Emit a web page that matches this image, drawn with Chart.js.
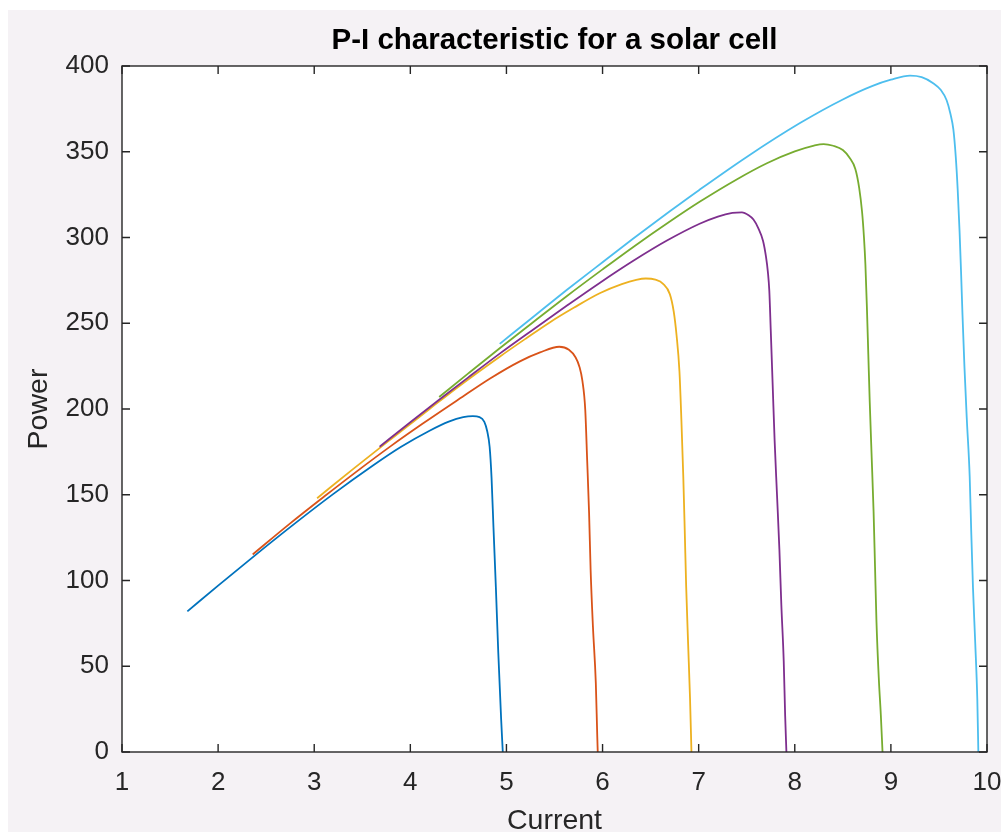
<!DOCTYPE html>
<html>
<head>
<meta charset="utf-8">
<script src="https://cdn.jsdelivr.net/npm/chart.js@4.4.1/dist/chart.umd.min.js"></script>
<style>
html, body { margin: 0; padding: 0; background: #ffffff; }
#bg { position: absolute; left: 8px; top: 10px; width: 993px; height: 822px; background: #f5f2f5; }
#wrap { position: absolute; left: 0; top: 0; width: 1001px; height: 832px; }
</style>
</head>
<body>
<div id="bg"></div>
<div id="wrap"><canvas id="c" width="1001" height="832"></canvas></div>
<script>
// ---- text ----
const chartTitle = 'P-I characteristic for a solar cell';
const xAxisTitle = 'Current';
const yAxisTitle = 'Power';

// ---- ticks ----
const xTicks = [1, 2, 3, 4, 5, 6, 7, 8, 9, 10];
const yTicks = [0, 50, 100, 150, 200, 250, 300, 350, 400];

// ---- series colours (MATLAB default order) ----
const seriesColors = ['#0072BD', '#D95319', '#EDB120', '#7E2F8E', '#77AC30', '#4DBEEE'];

// ---- series 1 (blue) ----
const current1 = [1.68, 2.0, 2.4, 2.8, 3.2, 3.6, 3.9, 4.2, 4.4, 4.55, 4.65, 4.72, 4.77, 4.80, 4.825, 4.845, 4.865, 4.89, 4.915, 4.945, 4.962];
const power1   = [82, 97, 115.4, 133.3, 150.5, 166.6, 177.8, 187.3, 192.6, 195.2, 195.8, 195.3, 192.5, 187, 178, 160, 131, 96, 58, 19, 0];

// ---- series 2 (orange) ----
const current2 = [2.36, 2.75, 3.1, 3.44, 3.8, 4.13, 4.5, 4.83, 5.14, 5.35, 5.55, 5.65, 5.72, 5.76, 5.79, 5.82, 5.84, 5.86, 5.876, 5.90, 5.93, 5.945, 5.95];
const power2   = [115.2, 133.3, 148.8, 163.5, 178.5, 191.5, 205.5, 217.8, 227.8, 233, 236.3, 234.5, 230, 224.5, 216.5, 199.5, 170, 139, 106, 73, 40, 9, 0];

// ---- series 3 (yellow) ----
const current3 = [3.03, 3.4, 3.8, 4.2, 4.5, 4.93, 5.2, 5.45, 5.7, 5.97, 6.2, 6.35, 6.45, 6.55, 6.63, 6.70, 6.74, 6.77, 6.80, 6.82, 6.84, 6.855, 6.87, 6.89, 6.91, 6.925];
const power3   = [148, 164.8, 182.5, 200, 213, 230.5, 241, 250.5, 259, 267.5, 272.8, 275.3, 276.1, 275.4, 273, 267, 257, 243, 222, 194, 160.5, 129.5, 96.5, 63.5, 31.5, 0];

// ---- series 4 (purple) ----
const current4 = [3.68, 4.0, 4.31, 4.6, 4.93, 5.28, 5.63, 5.97, 6.32, 6.67, 7.01, 7.2, 7.35, 7.45, 7.52, 7.57, 7.62, 7.67, 7.70, 7.72, 7.735, 7.75, 7.77, 7.79, 7.815, 7.84, 7.86, 7.885, 7.90, 7.913];
const power4   = [178, 192.3, 205.8, 218.3, 232.3, 246.4, 260.3, 273.5, 286.4, 298.2, 308, 312.2, 314.3, 314.7, 313, 310.5, 305.5, 298, 289, 280, 269, 246, 214, 182, 150, 118, 86, 53, 21, 0];

// ---- series 5 (green) ----
const current5 = [4.30, 4.6, 4.93, 5.3, 5.63, 6.0, 6.32, 6.7, 7.01, 7.4, 7.71, 8.0, 8.2, 8.3, 8.4, 8.5, 8.57, 8.63, 8.67, 8.70, 8.72, 8.735, 8.75, 8.765, 8.78, 8.80, 8.82, 8.835, 8.85, 8.875, 8.895, 8.913];
const power5   = [207, 220.6, 235.4, 251.6, 265.9, 281.4, 294.5, 309.3, 320.8, 334, 343.3, 350.2, 353.6, 354.5, 353.5, 351, 346.5, 340, 329, 315, 300, 284, 260, 232, 204, 172, 140, 108, 76, 42, 22, 0];

// ---- series 6 (cyan) ----
const current6 = [4.93, 5.3, 5.63, 6.0, 6.32, 6.7, 7.01, 7.5, 8.05, 8.5, 8.81, 9.0, 9.2, 9.32, 9.44, 9.52, 9.58, 9.62, 9.65, 9.675, 9.695, 9.715, 9.73, 9.745, 9.765, 9.79, 9.82, 9.836, 9.854, 9.878, 9.899, 9.91];
const power6   = [238, 254.7, 269.5, 285.6, 299.4, 315.3, 327.9, 347, 366.6, 380.5, 388.4, 392, 394.4, 393.5, 390, 386, 380, 372, 363, 347, 328, 303, 280, 255, 225, 194, 160.5, 128.5, 96, 63, 31, 0];

const currents = [current1, current2, current3, current4, current5, current6];
const powers   = [power1, power2, power3, power4, power5, power6];

const FONT = "'Liberation Sans', Arial, Helvetica, sans-serif";
const AXIS_COLOR = '#262626';

const datasets = currents.map((cur, i) => ({
  data: cur.map((v, k) => ({ x: v, y: powers[i][k] })),
  borderColor: seriesColors[i],
  backgroundColor: seriesColors[i],
  borderWidth: 1.8,
  pointRadius: 0,
  fill: false,
  cubicInterpolationMode: 'monotone',
  order: currents.length - 1 - i
}));

const framePlugin = {
  id: 'frame',
  beforeDraw(chart) {
    const { ctx, chartArea: a } = chart;
    ctx.save();
    ctx.fillStyle = '#ffffff';
    ctx.fillRect(a.left, a.top, a.right - a.left, a.bottom - a.top);
    ctx.restore();
  },
  afterDraw(chart) {
    const { ctx, chartArea: a } = chart;
    const xs = chart.scales.x, ys = chart.scales.y;
    const L = 8;
    ctx.save();
    ctx.strokeStyle = AXIS_COLOR;
    ctx.lineWidth = 1.4;
    ctx.beginPath();
    xs.ticks.forEach(t => {
      const px = xs.getPixelForValue(t.value);
      ctx.moveTo(px, a.bottom); ctx.lineTo(px, a.bottom - L);
      ctx.moveTo(px, a.top); ctx.lineTo(px, a.top + L);
    });
    ys.ticks.forEach(t => {
      const py = ys.getPixelForValue(t.value);
      ctx.moveTo(a.left, py); ctx.lineTo(a.left + L, py);
      ctx.moveTo(a.right, py); ctx.lineTo(a.right - L, py);
    });
    ctx.stroke();
    ctx.strokeRect(a.left, a.top, a.right - a.left, a.bottom - a.top);
    ctx.restore();
  }
};

new Chart(document.getElementById('c'), {
  type: 'line',
  data: { datasets },
  plugins: [framePlugin],
  options: {
    responsive: false,
    animation: false,
    events: [],
    devicePixelRatio: 1,
    layout: { padding: { left: 0, right: 14, top: 0, bottom: 0 } },
    plugins: {
      legend: { display: false },
      tooltip: { enabled: false },
      title: { display: false }
    },
    scales: {
      x: {
        type: 'linear',
        position: 'bottom',
        min: xTicks[0],
        max: xTicks[xTicks.length - 1],
        afterBuildTicks: s => { s.ticks = xTicks.map(v => ({ value: v })); },
        afterFit: s => { s.height = 80; s.paddingLeft = 0; s.paddingRight = 0; },
        grid: { display: false, drawTicks: false },
        border: { display: false },
        ticks: { autoSkip: false, maxRotation: 0, padding: 15, color: AXIS_COLOR, font: { family: FONT, size: 26 } },
        title: { display: true, text: xAxisTitle, color: AXIS_COLOR, font: { family: FONT, size: 28.5, lineHeight: 1 }, padding: { top: 0, bottom: -3 } }
      },
      xTop: {
        type: 'linear',
        position: 'top',
        min: xTicks[0],
        max: xTicks[xTicks.length - 1],
        afterFit: s => { s.height = 66; s.paddingLeft = 0; s.paddingRight = 0; },
        grid: { display: false, drawTicks: false },
        border: { display: false },
        ticks: { display: false },
        title: { display: true, text: chartTitle, color: '#000000', font: { family: FONT, size: 29.5, weight: 'bold', lineHeight: 1 }, padding: { top: 26.5, bottom: 0 } }
      },
      y: {
        type: 'linear',
        min: yTicks[0],
        max: yTicks[yTicks.length - 1],
        afterBuildTicks: s => { s.ticks = yTicks.map(v => ({ value: v })); },
        afterFit: s => { s.width = 122; s.paddingTop = 0; s.paddingBottom = 0; },
        grid: { display: false, drawTicks: false },
        border: { display: false },
        ticks: { autoSkip: false, padding: 13, color: AXIS_COLOR, font: { family: FONT, size: 26 } },
        title: { display: true, text: yAxisTitle, color: AXIS_COLOR, font: { family: FONT, size: 28.5, lineHeight: 1.2 }, padding: { top: 22, bottom: 0 } }
      }
    }
  }
});
</script>
</body>
</html>
